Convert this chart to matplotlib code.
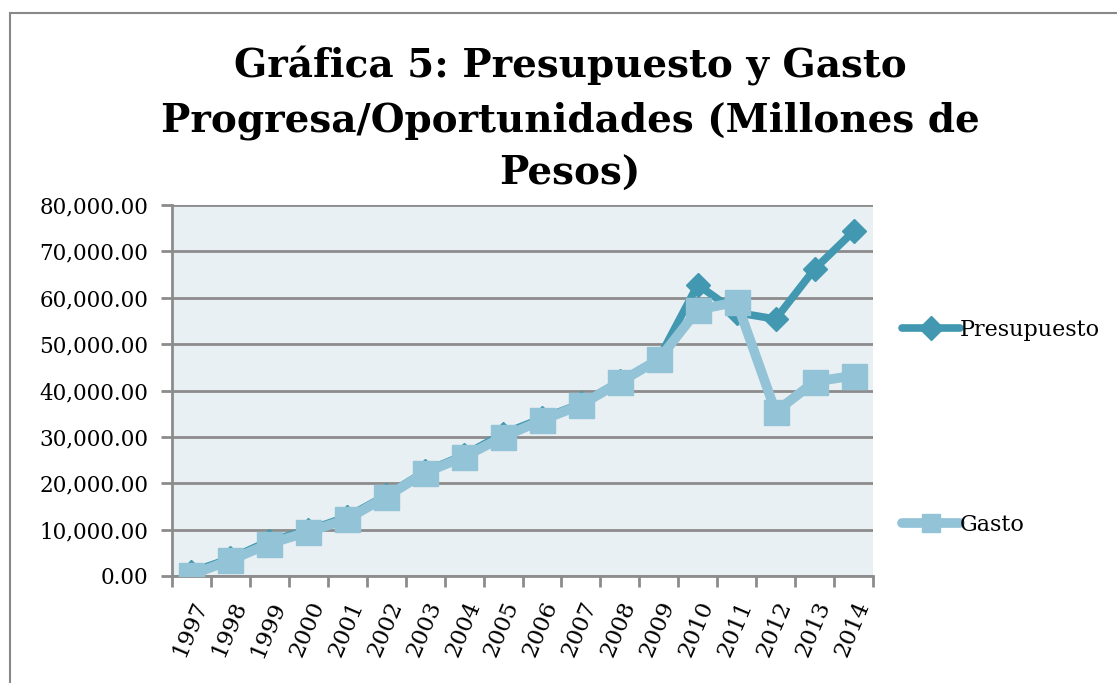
import matplotlib
matplotlib.use("Agg")
import matplotlib.pyplot as plt
from matplotlib.patches import Rectangle
from matplotlib.lines import Line2D
from matplotlib.ticker import FuncFormatter, FixedLocator

# data (millones de pesos)
years = ["1997", "1998", "1999", "2000", "2001", "2002", "2003", "2004", "2005",
         "2006", "2007", "2008", "2009", "2010", "2011", "2012", "2013", "2014"]
presupuesto = [900, 3800, 7600, 9900, 12800, 17400, 22600, 26100, 30700,
               34000, 37200, 42000, 46900, 62800, 56800, 55400, 66200, 74300]
gasto = [300, 3400, 7000, 9500, 12300, 17100, 22300, 25700, 30000,
         33600, 36900, 41800, 46700, 57400, 59100, 35400, 41900, 43200]

c_pres = "#4198B0"
c_gasto = "#93C3D6"
grid_c = "#8C8C8C"
font = "DejaVu Serif"

plt.rcParams["font.family"] = font

fig = plt.figure(figsize=(11.17, 6.83), dpi=100)
ax = fig.add_axes([172 / 1117, 1 - 576 / 683, (873 - 172) / 1117, (576 - 205) / 683])
ax.set_facecolor("#E9F0F4")

x = list(range(len(years)))
ax.plot(x, presupuesto, color=c_pres, lw=5.5, marker="D", ms=12.5,
        solid_joinstyle="miter", zorder=3)
ax.plot(x, gasto, color=c_gasto, lw=7, marker="s", ms=18,
        solid_joinstyle="miter", zorder=4)

ax.set_xlim(-0.5, len(years) - 0.5)
ax.set_ylim(0, 80000)
ax.set_yticks(range(0, 80001, 10000))
ax.yaxis.set_major_formatter(FuncFormatter(lambda v, p: f"{v:,.2f}"))
ax.grid(axis="y", color=grid_c, lw=2)
ax.set_axisbelow(True)

ax.set_xticks(x)
ax.set_xticklabels(years, rotation=67, ha="right", va="top",
                   rotation_mode="anchor", fontsize=16.5)
ax.xaxis.set_minor_locator(FixedLocator([i - 0.5 for i in range(len(years) + 1)]))
ax.tick_params(axis="x", which="major", length=0, pad=16)
ax.tick_params(axis="x", which="minor", length=8, width=2, color=grid_c)
ax.tick_params(axis="y", length=8, width=2, color=grid_c, labelsize=15.5, pad=9)

for s in ["top", "right"]:
    ax.spines[s].set_visible(False)
for s in ["left", "bottom"]:
    ax.spines[s].set_color(grid_c)
    ax.spines[s].set_linewidth(2)

fig.text(570 / 1117, 1 - 46 / 683,
         "Gráfica 5: Presupuesto y Gasto\nProgresa/Oportunidades (Millones de\nPesos)",
         ha="center", va="top", fontsize=28, fontweight="bold", linespacing=1.5)

# legend entries, spaced apart like the reference
h_pres = Line2D([], [], color=c_pres, lw=5.5, marker="D", ms=12.5, solid_capstyle="round")
h_gasto = Line2D([], [], color=c_gasto, lw=7, marker="s", ms=13, solid_capstyle="round")
for h, lab, yy in [(h_pres, "Presupuesto", 330), (h_gasto, "Gasto", 525)]:
    fig.legend(handles=[h], labels=[lab], loc="center left",
               bbox_to_anchor=(902 / 1117, 1 - yy / 683), frameon=False,
               fontsize=16, handlelength=2.6, handletextpad=0.0, numpoints=1,
               borderaxespad=0, borderpad=0)

# chart border (only top/left visible in the crop)
fig.patches.append(Rectangle((10 / 1117, -0.1), 1.2, 1 - 13 / 683 + 0.1,
                             transform=fig.transFigure, fill=False,
                             edgecolor="#888888", lw=1.5))

fig.savefig("out.png", dpi=100)
